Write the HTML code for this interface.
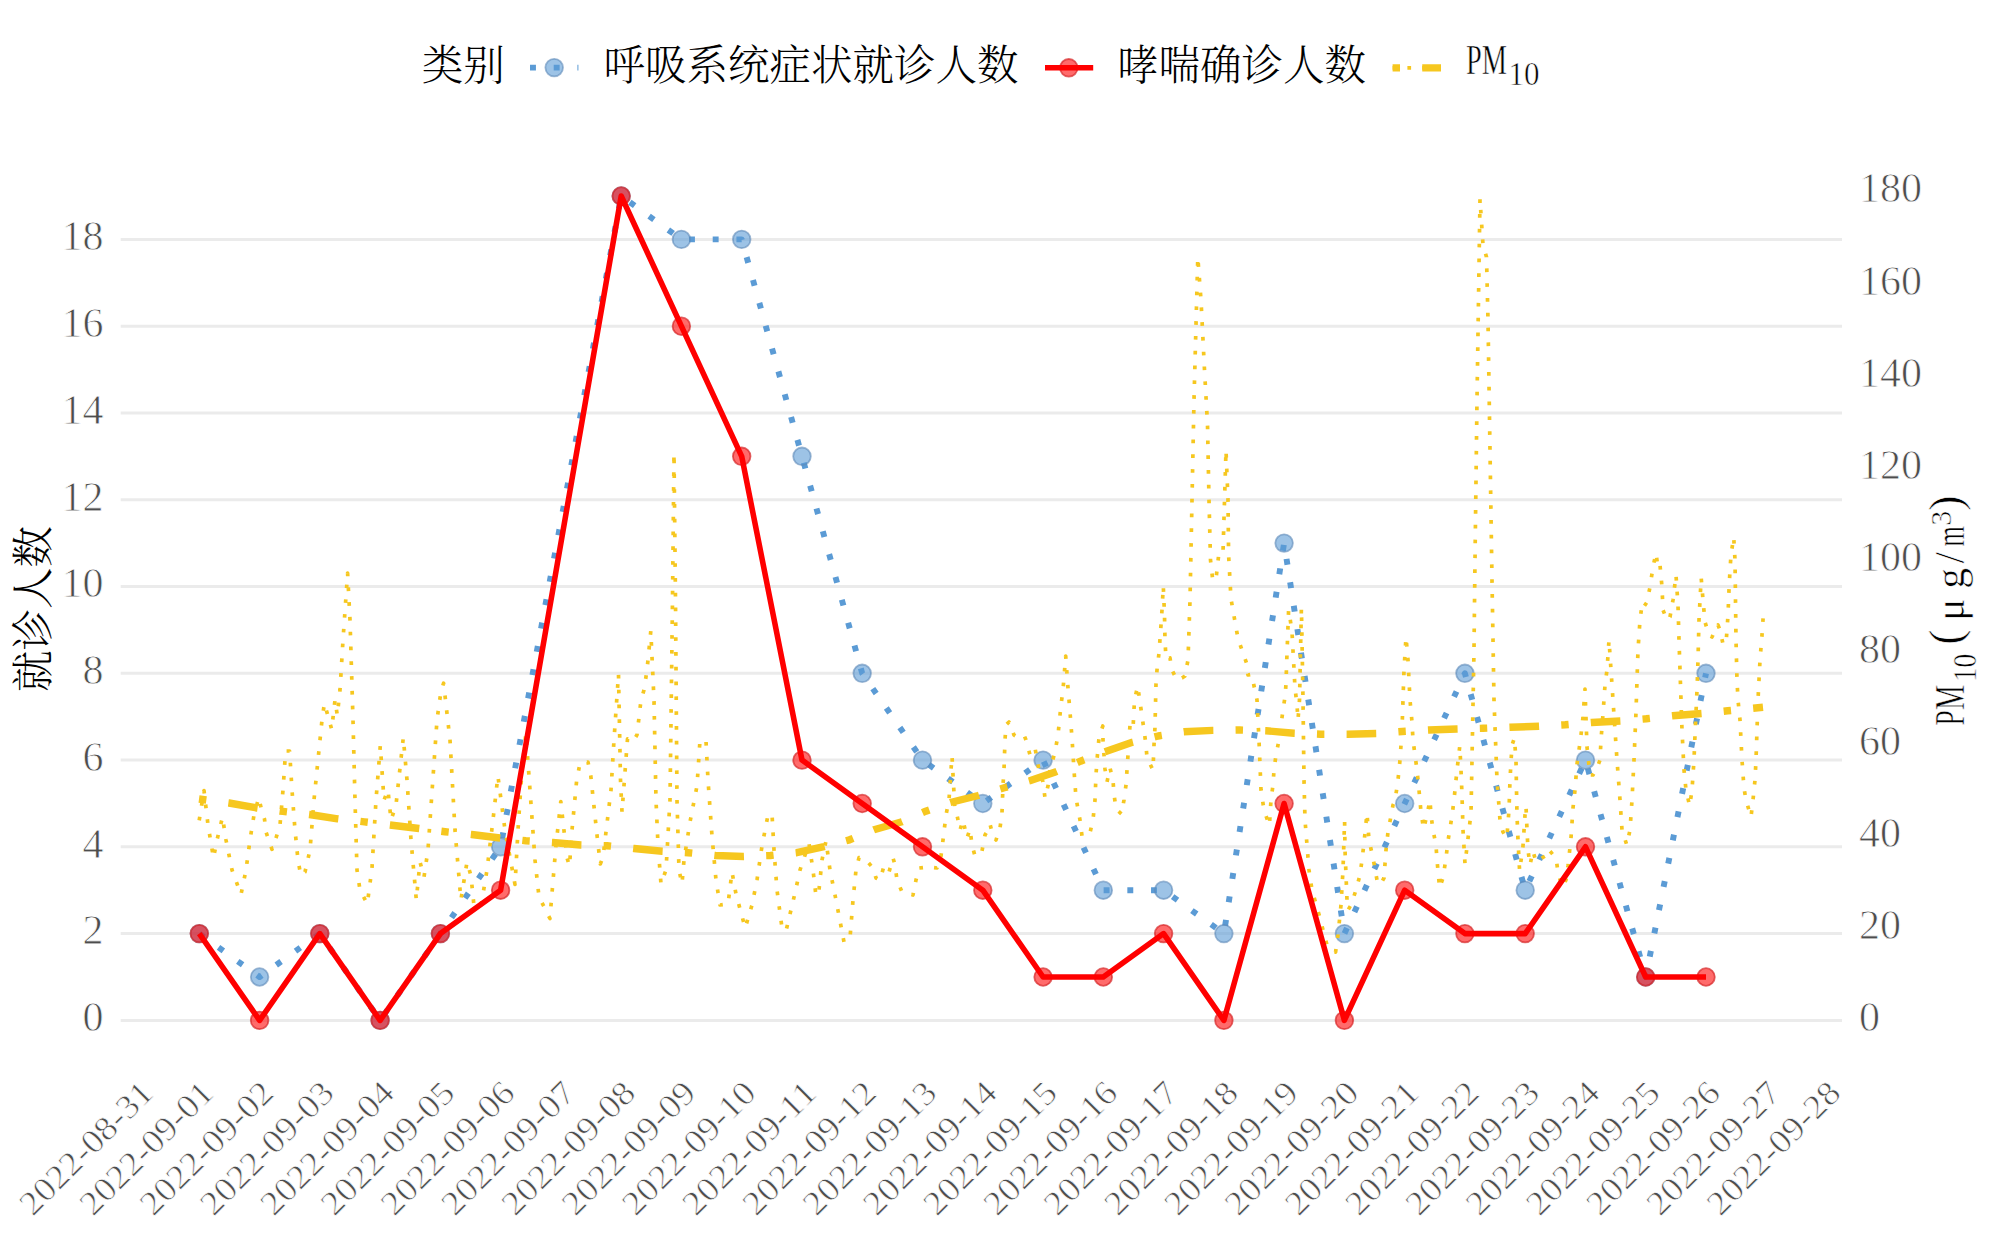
<!DOCTYPE html><html><head><meta charset="utf-8"><title>chart</title><style>html,body{margin:0;padding:0;background:#fff;}svg{display:block}</style></head><body>
<svg width="2000" height="1250" viewBox="0 0 2000 1250">
<rect width="2000" height="1250" fill="#fff"/>
<line x1="120.7" y1="1020.40" x2="1842" y2="1020.40" stroke="#EBEBEB" stroke-width="3"/>
<line x1="120.7" y1="933.62" x2="1842" y2="933.62" stroke="#EBEBEB" stroke-width="3"/>
<line x1="120.7" y1="846.84" x2="1842" y2="846.84" stroke="#EBEBEB" stroke-width="3"/>
<line x1="120.7" y1="760.06" x2="1842" y2="760.06" stroke="#EBEBEB" stroke-width="3"/>
<line x1="120.7" y1="673.28" x2="1842" y2="673.28" stroke="#EBEBEB" stroke-width="3"/>
<line x1="120.7" y1="586.50" x2="1842" y2="586.50" stroke="#EBEBEB" stroke-width="3"/>
<line x1="120.7" y1="499.72" x2="1842" y2="499.72" stroke="#EBEBEB" stroke-width="3"/>
<line x1="120.7" y1="412.94" x2="1842" y2="412.94" stroke="#EBEBEB" stroke-width="3"/>
<line x1="120.7" y1="326.16" x2="1842" y2="326.16" stroke="#EBEBEB" stroke-width="3"/>
<line x1="120.7" y1="239.38" x2="1842" y2="239.38" stroke="#EBEBEB" stroke-width="3"/>
<text x="103.5" y="1031.2" font-family="Liberation Serif, serif" font-size="42" fill="#4D4D4D" stroke="#fff" stroke-width="0.8" text-anchor="end">0</text>
<text x="103.5" y="944.4" font-family="Liberation Serif, serif" font-size="42" fill="#4D4D4D" stroke="#fff" stroke-width="0.8" text-anchor="end">2</text>
<text x="103.5" y="857.6" font-family="Liberation Serif, serif" font-size="42" fill="#4D4D4D" stroke="#fff" stroke-width="0.8" text-anchor="end">4</text>
<text x="103.5" y="770.9" font-family="Liberation Serif, serif" font-size="42" fill="#4D4D4D" stroke="#fff" stroke-width="0.8" text-anchor="end">6</text>
<text x="103.5" y="684.1" font-family="Liberation Serif, serif" font-size="42" fill="#4D4D4D" stroke="#fff" stroke-width="0.8" text-anchor="end">8</text>
<text x="103.5" y="597.3" font-family="Liberation Serif, serif" font-size="42" fill="#4D4D4D" stroke="#fff" stroke-width="0.8" text-anchor="end">10</text>
<text x="103.5" y="510.5" font-family="Liberation Serif, serif" font-size="42" fill="#4D4D4D" stroke="#fff" stroke-width="0.8" text-anchor="end">12</text>
<text x="103.5" y="423.7" font-family="Liberation Serif, serif" font-size="42" fill="#4D4D4D" stroke="#fff" stroke-width="0.8" text-anchor="end">14</text>
<text x="103.5" y="337.0" font-family="Liberation Serif, serif" font-size="42" fill="#4D4D4D" stroke="#fff" stroke-width="0.8" text-anchor="end">16</text>
<text x="103.5" y="250.2" font-family="Liberation Serif, serif" font-size="42" fill="#4D4D4D" stroke="#fff" stroke-width="0.8" text-anchor="end">18</text>
<text x="1859" y="1031.2" font-family="Liberation Serif, serif" font-size="42" fill="#4D4D4D" stroke="#fff" stroke-width="0.8">0</text>
<text x="1859" y="939.1" font-family="Liberation Serif, serif" font-size="42" fill="#4D4D4D" stroke="#fff" stroke-width="0.8">20</text>
<text x="1859" y="847.0" font-family="Liberation Serif, serif" font-size="42" fill="#4D4D4D" stroke="#fff" stroke-width="0.8">40</text>
<text x="1859" y="754.9" font-family="Liberation Serif, serif" font-size="42" fill="#4D4D4D" stroke="#fff" stroke-width="0.8">60</text>
<text x="1859" y="662.8" font-family="Liberation Serif, serif" font-size="42" fill="#4D4D4D" stroke="#fff" stroke-width="0.8">80</text>
<text x="1859" y="570.8" font-family="Liberation Serif, serif" font-size="42" fill="#4D4D4D" stroke="#fff" stroke-width="0.8">100</text>
<text x="1859" y="478.7" font-family="Liberation Serif, serif" font-size="42" fill="#4D4D4D" stroke="#fff" stroke-width="0.8">120</text>
<text x="1859" y="386.6" font-family="Liberation Serif, serif" font-size="42" fill="#4D4D4D" stroke="#fff" stroke-width="0.8">140</text>
<text x="1859" y="294.5" font-family="Liberation Serif, serif" font-size="42" fill="#4D4D4D" stroke="#fff" stroke-width="0.8">160</text>
<text x="1859" y="202.4" font-family="Liberation Serif, serif" font-size="42" fill="#4D4D4D" stroke="#fff" stroke-width="0.8">180</text>
<text transform="translate(155.1,1094.9) rotate(-45)" font-family="Liberation Serif, serif" font-size="34" fill="#4D4D4D" stroke="#fff" stroke-width="0.7" text-anchor="end" textLength="173" lengthAdjust="spacingAndGlyphs">2022-08-31</text>
<text transform="translate(215.4,1094.9) rotate(-45)" font-family="Liberation Serif, serif" font-size="34" fill="#4D4D4D" stroke="#fff" stroke-width="0.7" text-anchor="end" textLength="173" lengthAdjust="spacingAndGlyphs">2022-09-01</text>
<text transform="translate(275.7,1094.9) rotate(-45)" font-family="Liberation Serif, serif" font-size="34" fill="#4D4D4D" stroke="#fff" stroke-width="0.7" text-anchor="end" textLength="173" lengthAdjust="spacingAndGlyphs">2022-09-02</text>
<text transform="translate(335.9,1094.9) rotate(-45)" font-family="Liberation Serif, serif" font-size="34" fill="#4D4D4D" stroke="#fff" stroke-width="0.7" text-anchor="end" textLength="173" lengthAdjust="spacingAndGlyphs">2022-09-03</text>
<text transform="translate(396.2,1094.9) rotate(-45)" font-family="Liberation Serif, serif" font-size="34" fill="#4D4D4D" stroke="#fff" stroke-width="0.7" text-anchor="end" textLength="173" lengthAdjust="spacingAndGlyphs">2022-09-04</text>
<text transform="translate(456.5,1094.9) rotate(-45)" font-family="Liberation Serif, serif" font-size="34" fill="#4D4D4D" stroke="#fff" stroke-width="0.7" text-anchor="end" textLength="173" lengthAdjust="spacingAndGlyphs">2022-09-05</text>
<text transform="translate(516.7,1094.9) rotate(-45)" font-family="Liberation Serif, serif" font-size="34" fill="#4D4D4D" stroke="#fff" stroke-width="0.7" text-anchor="end" textLength="173" lengthAdjust="spacingAndGlyphs">2022-09-06</text>
<text transform="translate(577.0,1094.9) rotate(-45)" font-family="Liberation Serif, serif" font-size="34" fill="#4D4D4D" stroke="#fff" stroke-width="0.7" text-anchor="end" textLength="173" lengthAdjust="spacingAndGlyphs">2022-09-07</text>
<text transform="translate(637.3,1094.9) rotate(-45)" font-family="Liberation Serif, serif" font-size="34" fill="#4D4D4D" stroke="#fff" stroke-width="0.7" text-anchor="end" textLength="173" lengthAdjust="spacingAndGlyphs">2022-09-08</text>
<text transform="translate(697.5,1094.9) rotate(-45)" font-family="Liberation Serif, serif" font-size="34" fill="#4D4D4D" stroke="#fff" stroke-width="0.7" text-anchor="end" textLength="173" lengthAdjust="spacingAndGlyphs">2022-09-09</text>
<text transform="translate(757.8,1094.9) rotate(-45)" font-family="Liberation Serif, serif" font-size="34" fill="#4D4D4D" stroke="#fff" stroke-width="0.7" text-anchor="end" textLength="173" lengthAdjust="spacingAndGlyphs">2022-09-10</text>
<text transform="translate(818.1,1094.9) rotate(-45)" font-family="Liberation Serif, serif" font-size="34" fill="#4D4D4D" stroke="#fff" stroke-width="0.7" text-anchor="end" textLength="173" lengthAdjust="spacingAndGlyphs">2022-09-11</text>
<text transform="translate(878.3,1094.9) rotate(-45)" font-family="Liberation Serif, serif" font-size="34" fill="#4D4D4D" stroke="#fff" stroke-width="0.7" text-anchor="end" textLength="173" lengthAdjust="spacingAndGlyphs">2022-09-12</text>
<text transform="translate(938.6,1094.9) rotate(-45)" font-family="Liberation Serif, serif" font-size="34" fill="#4D4D4D" stroke="#fff" stroke-width="0.7" text-anchor="end" textLength="173" lengthAdjust="spacingAndGlyphs">2022-09-13</text>
<text transform="translate(998.9,1094.9) rotate(-45)" font-family="Liberation Serif, serif" font-size="34" fill="#4D4D4D" stroke="#fff" stroke-width="0.7" text-anchor="end" textLength="173" lengthAdjust="spacingAndGlyphs">2022-09-14</text>
<text transform="translate(1059.2,1094.9) rotate(-45)" font-family="Liberation Serif, serif" font-size="34" fill="#4D4D4D" stroke="#fff" stroke-width="0.7" text-anchor="end" textLength="173" lengthAdjust="spacingAndGlyphs">2022-09-15</text>
<text transform="translate(1119.4,1094.9) rotate(-45)" font-family="Liberation Serif, serif" font-size="34" fill="#4D4D4D" stroke="#fff" stroke-width="0.7" text-anchor="end" textLength="173" lengthAdjust="spacingAndGlyphs">2022-09-16</text>
<text transform="translate(1179.7,1094.9) rotate(-45)" font-family="Liberation Serif, serif" font-size="34" fill="#4D4D4D" stroke="#fff" stroke-width="0.7" text-anchor="end" textLength="173" lengthAdjust="spacingAndGlyphs">2022-09-17</text>
<text transform="translate(1240.0,1094.9) rotate(-45)" font-family="Liberation Serif, serif" font-size="34" fill="#4D4D4D" stroke="#fff" stroke-width="0.7" text-anchor="end" textLength="173" lengthAdjust="spacingAndGlyphs">2022-09-18</text>
<text transform="translate(1300.2,1094.9) rotate(-45)" font-family="Liberation Serif, serif" font-size="34" fill="#4D4D4D" stroke="#fff" stroke-width="0.7" text-anchor="end" textLength="173" lengthAdjust="spacingAndGlyphs">2022-09-19</text>
<text transform="translate(1360.5,1094.9) rotate(-45)" font-family="Liberation Serif, serif" font-size="34" fill="#4D4D4D" stroke="#fff" stroke-width="0.7" text-anchor="end" textLength="173" lengthAdjust="spacingAndGlyphs">2022-09-20</text>
<text transform="translate(1420.8,1094.9) rotate(-45)" font-family="Liberation Serif, serif" font-size="34" fill="#4D4D4D" stroke="#fff" stroke-width="0.7" text-anchor="end" textLength="173" lengthAdjust="spacingAndGlyphs">2022-09-21</text>
<text transform="translate(1481.0,1094.9) rotate(-45)" font-family="Liberation Serif, serif" font-size="34" fill="#4D4D4D" stroke="#fff" stroke-width="0.7" text-anchor="end" textLength="173" lengthAdjust="spacingAndGlyphs">2022-09-22</text>
<text transform="translate(1541.3,1094.9) rotate(-45)" font-family="Liberation Serif, serif" font-size="34" fill="#4D4D4D" stroke="#fff" stroke-width="0.7" text-anchor="end" textLength="173" lengthAdjust="spacingAndGlyphs">2022-09-23</text>
<text transform="translate(1601.6,1094.9) rotate(-45)" font-family="Liberation Serif, serif" font-size="34" fill="#4D4D4D" stroke="#fff" stroke-width="0.7" text-anchor="end" textLength="173" lengthAdjust="spacingAndGlyphs">2022-09-24</text>
<text transform="translate(1661.8,1094.9) rotate(-45)" font-family="Liberation Serif, serif" font-size="34" fill="#4D4D4D" stroke="#fff" stroke-width="0.7" text-anchor="end" textLength="173" lengthAdjust="spacingAndGlyphs">2022-09-25</text>
<text transform="translate(1722.1,1094.9) rotate(-45)" font-family="Liberation Serif, serif" font-size="34" fill="#4D4D4D" stroke="#fff" stroke-width="0.7" text-anchor="end" textLength="173" lengthAdjust="spacingAndGlyphs">2022-09-26</text>
<text transform="translate(1782.4,1094.9) rotate(-45)" font-family="Liberation Serif, serif" font-size="34" fill="#4D4D4D" stroke="#fff" stroke-width="0.7" text-anchor="end" textLength="173" lengthAdjust="spacingAndGlyphs">2022-09-27</text>
<text transform="translate(1842.6,1094.9) rotate(-45)" font-family="Liberation Serif, serif" font-size="34" fill="#4D4D4D" stroke="#fff" stroke-width="0.7" text-anchor="end" textLength="173" lengthAdjust="spacingAndGlyphs">2022-09-28</text>
<text transform="translate(48.2,609) rotate(-90)" font-family="Liberation Serif, Noto Serif CJK SC, serif" font-weight="300" font-size="41.5" fill="#000" text-anchor="middle">就诊人数</text>
<text transform="translate(1964.3,725.7) rotate(-90)" font-family="Liberation Serif, serif" font-size="41.5" fill="#000" stroke="#fff" stroke-width="0.6"><tspan x="0" y="0" textLength="40.6" lengthAdjust="spacingAndGlyphs">PM</tspan><tspan x="58" y="11.9" font-size="34" text-anchor="middle" textLength="28" lengthAdjust="spacingAndGlyphs">10</tspan><tspan x="88.5" y="-3" font-size="46" text-anchor="middle">(</tspan><tspan x="116" y="0" text-anchor="middle">μ</tspan><tspan x="147.3" y="0" text-anchor="middle">g</tspan><tspan x="168" y="0" text-anchor="middle">/</tspan><tspan x="189.5" y="0" text-anchor="middle" textLength="20.5" lengthAdjust="spacingAndGlyphs">m</tspan><tspan x="207.5" y="-13.5" font-size="30" text-anchor="middle">3</tspan><tspan x="222.7" y="-3" font-size="46" text-anchor="middle">)</tspan></text>
<polyline points="199.3,933.6 259.6,977.0 319.8,933.6 380.1,1020.4 440.4,933.6 500.6,846.8 621.2,196.0 681.4,239.4 741.7,239.4 802.0,456.3 862.2,673.3 922.5,760.1 982.8,803.5 1043.1,760.1 1103.3,890.2 1163.6,890.2 1223.9,933.6 1284.1,543.1 1344.4,933.6 1404.7,803.5 1464.9,673.3 1525.2,890.2 1585.5,760.1 1645.7,977.0 1706.0,673.3" fill="none" stroke="#5B9BD5" stroke-width="5.93" stroke-dasharray="5.93 17.78" stroke-linejoin="round"/>
<circle cx="199.3" cy="933.6" r="8.8" fill="#5B9BD5" fill-opacity="0.6" stroke="#5E88B8" stroke-opacity="0.6" stroke-width="1.8"/>
<circle cx="259.6" cy="977.0" r="8.8" fill="#5B9BD5" fill-opacity="0.6" stroke="#5E88B8" stroke-opacity="0.6" stroke-width="1.8"/>
<circle cx="319.8" cy="933.6" r="8.8" fill="#5B9BD5" fill-opacity="0.6" stroke="#5E88B8" stroke-opacity="0.6" stroke-width="1.8"/>
<circle cx="380.1" cy="1020.4" r="8.8" fill="#5B9BD5" fill-opacity="0.6" stroke="#5E88B8" stroke-opacity="0.6" stroke-width="1.8"/>
<circle cx="440.4" cy="933.6" r="8.8" fill="#5B9BD5" fill-opacity="0.6" stroke="#5E88B8" stroke-opacity="0.6" stroke-width="1.8"/>
<circle cx="500.6" cy="846.8" r="8.8" fill="#5B9BD5" fill-opacity="0.6" stroke="#5E88B8" stroke-opacity="0.6" stroke-width="1.8"/>
<circle cx="621.2" cy="196.0" r="8.8" fill="#5B9BD5" fill-opacity="0.6" stroke="#5E88B8" stroke-opacity="0.6" stroke-width="1.8"/>
<circle cx="681.4" cy="239.4" r="8.8" fill="#5B9BD5" fill-opacity="0.6" stroke="#5E88B8" stroke-opacity="0.6" stroke-width="1.8"/>
<circle cx="741.7" cy="239.4" r="8.8" fill="#5B9BD5" fill-opacity="0.6" stroke="#5E88B8" stroke-opacity="0.6" stroke-width="1.8"/>
<circle cx="802.0" cy="456.3" r="8.8" fill="#5B9BD5" fill-opacity="0.6" stroke="#5E88B8" stroke-opacity="0.6" stroke-width="1.8"/>
<circle cx="862.2" cy="673.3" r="8.8" fill="#5B9BD5" fill-opacity="0.6" stroke="#5E88B8" stroke-opacity="0.6" stroke-width="1.8"/>
<circle cx="922.5" cy="760.1" r="8.8" fill="#5B9BD5" fill-opacity="0.6" stroke="#5E88B8" stroke-opacity="0.6" stroke-width="1.8"/>
<circle cx="982.8" cy="803.5" r="8.8" fill="#5B9BD5" fill-opacity="0.6" stroke="#5E88B8" stroke-opacity="0.6" stroke-width="1.8"/>
<circle cx="1043.1" cy="760.1" r="8.8" fill="#5B9BD5" fill-opacity="0.6" stroke="#5E88B8" stroke-opacity="0.6" stroke-width="1.8"/>
<circle cx="1103.3" cy="890.2" r="8.8" fill="#5B9BD5" fill-opacity="0.6" stroke="#5E88B8" stroke-opacity="0.6" stroke-width="1.8"/>
<circle cx="1163.6" cy="890.2" r="8.8" fill="#5B9BD5" fill-opacity="0.6" stroke="#5E88B8" stroke-opacity="0.6" stroke-width="1.8"/>
<circle cx="1223.9" cy="933.6" r="8.8" fill="#5B9BD5" fill-opacity="0.6" stroke="#5E88B8" stroke-opacity="0.6" stroke-width="1.8"/>
<circle cx="1284.1" cy="543.1" r="8.8" fill="#5B9BD5" fill-opacity="0.6" stroke="#5E88B8" stroke-opacity="0.6" stroke-width="1.8"/>
<circle cx="1344.4" cy="933.6" r="8.8" fill="#5B9BD5" fill-opacity="0.6" stroke="#5E88B8" stroke-opacity="0.6" stroke-width="1.8"/>
<circle cx="1404.7" cy="803.5" r="8.8" fill="#5B9BD5" fill-opacity="0.6" stroke="#5E88B8" stroke-opacity="0.6" stroke-width="1.8"/>
<circle cx="1464.9" cy="673.3" r="8.8" fill="#5B9BD5" fill-opacity="0.6" stroke="#5E88B8" stroke-opacity="0.6" stroke-width="1.8"/>
<circle cx="1525.2" cy="890.2" r="8.8" fill="#5B9BD5" fill-opacity="0.6" stroke="#5E88B8" stroke-opacity="0.6" stroke-width="1.8"/>
<circle cx="1585.5" cy="760.1" r="8.8" fill="#5B9BD5" fill-opacity="0.6" stroke="#5E88B8" stroke-opacity="0.6" stroke-width="1.8"/>
<circle cx="1645.7" cy="977.0" r="8.8" fill="#5B9BD5" fill-opacity="0.6" stroke="#5E88B8" stroke-opacity="0.6" stroke-width="1.8"/>
<circle cx="1706.0" cy="673.3" r="8.8" fill="#5B9BD5" fill-opacity="0.6" stroke="#5E88B8" stroke-opacity="0.6" stroke-width="1.8"/>
<polyline points="199.2,820.4 204.0,790.5 208.0,825.0 213.5,858.0 217.0,840.0 222.5,817.0 226.0,840.0 232.0,870.0 241.0,894.5 246.0,870.0 250.0,840.0 254.0,815.0 258.8,797.5 262.0,812.0 264.5,819.0 266.0,832.0 272.0,849.3 276.0,838.0 280.0,825.0 283.0,790.0 285.6,751.0 289.6,751.0 292.0,790.0 295.0,830.0 298.0,860.0 300.8,875.5 305.0,872.0 310.0,850.0 314.0,800.0 318.0,760.0 322.0,720.0 324.4,703.4 328.0,716.0 331.7,729.4 335.0,700.0 337.3,715.4 340.0,690.0 343.0,640.0 347.6,573.0 350.0,620.0 353.0,720.0 355.0,800.0 357.0,870.0 360.0,890.0 367.3,904.0 372.0,868.0 376.0,800.0 380.3,745.7 384.0,800.0 388.0,790.0 391.0,820.0 396.0,805.0 403.3,737.6 407.0,780.0 411.0,840.0 416.3,899.8 420.0,862.0 424.0,877.0 428.0,850.0 432.0,792.0 437.0,720.0 441.0,691.0 443.6,683.2 450.0,740.0 455.0,830.0 460.9,899.8 467.0,862.0 471.0,876.0 474.0,906.0 481.0,906.0 487.0,870.0 493.0,820.0 497.9,775.9 505.0,830.0 515.0,884.5 518.0,830.0 522.0,770.0 525.9,733.4 530.0,790.0 535.0,860.0 539.0,896.8 549.9,918.5 556.0,845.0 560.8,801.5 567.0,858.0 569.5,866.0 572.0,830.0 576.6,781.0 580.0,763.0 588.0,762.0 590.8,776.0 597.0,835.0 600.3,864.0 603.0,857.0 608.0,815.0 611.0,790.0 614.0,740.0 618.5,674.0 620.5,780.0 622.0,812.0 627.5,738.9 633.0,741.6 637.0,734.8 641.0,700.0 644.0,690.0 647.0,670.0 650.8,631.0 654.0,700.0 656.0,800.0 658.0,845.0 661.0,884.0 666.0,870.0 670.0,800.0 672.5,600.0 674.0,453.0 675.5,600.0 677.0,800.0 679.0,870.0 682.0,884.0 684.0,860.0 690.0,822.0 697.0,786.0 700.0,740.0 706.0,741.0 708.0,780.0 712.0,836.0 716.0,880.0 720.0,905.0 728.0,904.0 732.0,872.0 736.0,894.0 745.2,928.0 752.0,905.0 757.0,880.0 762.0,846.0 768.0,815.0 772.0,814.0 774.0,850.0 777.0,890.0 782.0,928.0 786.0,931.0 795.0,893.0 800.0,870.0 809.0,843.5 813.0,870.0 816.0,896.0 819.0,890.0 822.0,860.0 826.0,841.0 830.0,870.0 836.0,900.0 844.0,942.0 850.0,938.0 853.0,900.0 856.0,870.0 859.0,857.6 866.0,860.0 873.0,868.0 876.0,878.0 880.0,880.0 884.0,866.0 889.0,872.0 893.0,858.0 895.0,865.0 897.0,880.0 902.0,892.0 907.0,893.0 913.0,895.0 916.0,880.0 919.0,868.0 928.0,867.0 937.0,868.0 941.0,856.0 943.0,840.0 946.0,815.0 949.0,800.0 951.0,770.0 952.0,756.0 955.0,812.0 957.0,815.0 960.0,830.0 963.0,820.0 967.0,838.0 970.0,829.0 972.0,845.0 975.0,856.0 978.0,852.0 982.0,851.0 985.0,835.0 988.0,830.0 990.0,824.0 993.0,836.0 996.0,840.0 1000.0,828.0 1002.0,813.0 1003.0,785.0 1004.0,770.0 1005.0,740.0 1006.0,725.0 1009.0,722.0 1014.0,735.0 1017.0,737.0 1024.0,735.0 1026.0,740.0 1030.0,755.0 1035.0,748.0 1039.0,770.0 1043.0,782.0 1045.0,798.0 1048.0,786.0 1050.0,770.0 1055.0,752.0 1058.0,735.0 1061.0,705.0 1063.0,690.0 1065.7,656.0 1068.0,688.0 1070.0,712.0 1072.0,738.0 1074.0,770.0 1076.0,798.0 1080.0,820.0 1082.0,836.0 1089.7,834.0 1093.0,820.0 1095.0,800.0 1096.0,775.0 1097.0,760.0 1099.0,738.0 1102.8,726.0 1103.0,740.0 1104.0,755.0 1105.0,769.0 1107.0,782.0 1110.0,768.0 1113.0,780.0 1114.0,794.0 1116.0,809.0 1121.5,814.0 1124.0,800.0 1126.0,785.0 1127.0,770.0 1128.0,755.0 1130.0,725.0 1133.0,729.0 1134.5,700.0 1137.7,686.0 1140.0,702.0 1142.0,716.0 1144.0,730.0 1146.0,745.0 1147.0,758.0 1153.0,770.0 1154.0,745.0 1155.0,727.0 1155.6,700.0 1156.0,684.0 1157.0,670.0 1159.0,653.0 1161.0,625.0 1162.0,610.0 1163.3,586.0 1164.5,615.0 1165.0,640.0 1166.0,659.0 1170.0,658.0 1172.0,670.0 1177.0,680.0 1182.0,678.0 1185.0,676.0 1188.0,660.0 1190.0,600.0 1192.0,500.0 1194.0,400.0 1197.8,257.0 1201.0,300.0 1204.5,370.0 1207.5,424.0 1209.0,500.0 1210.5,560.0 1212.5,578.0 1215.8,581.0 1219.0,552.0 1223.0,552.0 1226.0,450.0 1228.0,500.0 1228.6,555.0 1231.0,599.0 1238.0,638.6 1246.5,662.9 1248.0,675.0 1251.6,674.4 1257.0,700.0 1259.0,740.0 1261.0,790.0 1264.0,810.0 1269.4,825.6 1271.0,800.0 1273.0,785.0 1274.0,770.0 1276.0,755.0 1279.0,740.0 1281.0,725.0 1283.0,710.0 1285.0,697.0 1286.0,684.0 1286.5,667.0 1287.5,640.0 1288.6,610.0 1290.0,618.0 1292.0,632.0 1293.5,660.0 1295.0,688.0 1297.0,705.0 1298.0,720.0 1299.5,700.0 1301.4,608.0 1302.0,640.0 1303.0,700.0 1303.5,740.0 1304.0,780.0 1305.0,820.0 1307.0,845.0 1309.0,870.0 1312.0,890.0 1316.0,904.0 1320.0,918.0 1323.0,930.0 1327.0,945.0 1335.6,952.0 1338.0,935.0 1341.0,905.0 1343.0,870.0 1344.6,821.0 1345.0,850.0 1347.0,900.0 1348.0,910.0 1351.0,905.0 1356.0,890.0 1360.0,875.0 1362.0,860.0 1364.0,843.0 1367.0,813.0 1369.0,840.0 1373.0,858.0 1377.0,880.0 1380.0,885.0 1384.0,878.0 1386.0,850.0 1388.0,832.0 1393.0,805.0 1395.0,801.0 1398.0,780.0 1400.0,760.0 1402.0,730.0 1403.0,700.0 1404.0,670.0 1406.0,637.0 1408.0,660.0 1410.0,700.0 1412.0,722.0 1413.0,740.0 1415.0,755.0 1417.0,770.0 1419.0,790.0 1421.0,812.0 1423.6,829.0 1427.0,815.0 1430.0,800.0 1431.0,815.0 1433.0,830.0 1436.0,845.0 1437.0,860.0 1439.6,888.0 1443.0,878.0 1446.0,858.0 1448.0,841.0 1452.0,816.0 1454.0,800.0 1457.0,770.0 1459.8,746.0 1461.0,770.0 1462.0,795.0 1463.0,830.0 1465.0,864.0 1471.0,813.0 1472.0,760.0 1474.0,650.0 1475.0,560.0 1477.0,400.0 1480.0,199.0 1483.0,245.0 1486.5,257.0 1488.0,320.0 1490.0,450.0 1492.0,580.0 1494.0,700.0 1497.0,780.0 1500.0,820.0 1503.0,832.0 1506.8,838.0 1509.0,810.0 1510.0,780.0 1511.0,762.0 1512.0,745.0 1514.4,738.0 1516.0,760.0 1516.5,790.0 1517.0,815.0 1518.0,840.0 1519.6,871.0 1523.0,846.0 1525.0,815.0 1526.0,806.0 1527.0,830.0 1528.0,850.0 1530.0,865.0 1533.0,851.0 1536.0,862.0 1539.0,860.0 1545.0,856.0 1548.0,849.0 1556.0,858.0 1558.0,872.0 1562.0,887.0 1566.0,880.0 1568.0,866.0 1571.0,838.0 1573.0,808.0 1575.0,790.0 1577.0,764.0 1579.0,750.0 1581.0,735.0 1583.0,717.0 1585.0,689.0 1587.0,747.0 1590.0,775.0 1593.0,775.0 1597.0,768.0 1600.0,760.0 1601.0,740.0 1603.0,714.0 1605.0,685.0 1607.0,670.0 1609.0,640.0 1611.0,670.0 1613.0,700.0 1615.0,730.0 1617.0,760.0 1620.0,800.0 1622.0,830.0 1626.8,845.0 1630.0,830.0 1632.0,800.0 1634.0,760.0 1636.0,712.0 1637.0,680.0 1638.0,650.0 1640.0,620.0 1642.0,605.0 1643.0,608.0 1647.0,602.0 1650.0,587.0 1653.0,567.0 1656.0,553.0 1658.0,568.0 1660.0,565.0 1662.0,587.0 1663.0,610.0 1667.0,620.0 1670.0,617.0 1673.0,600.0 1676.0,575.0 1678.0,605.0 1679.0,640.0 1680.0,670.0 1681.0,700.0 1682.0,730.0 1683.0,750.0 1684.0,770.0 1686.0,790.0 1689.7,806.0 1692.0,790.0 1694.0,760.0 1695.0,735.0 1697.0,690.0 1698.0,660.0 1699.0,620.0 1700.0,600.0 1701.2,578.0 1703.0,600.0 1705.0,622.0 1709.0,635.0 1712.0,637.0 1718.0,625.0 1720.0,630.0 1723.0,644.0 1726.0,644.0 1727.0,630.0 1728.0,615.0 1729.0,590.0 1730.0,570.0 1731.0,555.0 1733.7,537.0 1735.0,560.0 1735.5,600.0 1736.0,640.0 1737.0,680.0 1738.0,700.0 1740.0,720.0 1741.0,740.0 1742.0,760.0 1744.0,788.0 1746.0,800.0 1751.0,817.0 1753.0,800.0 1755.0,780.0 1756.0,760.0 1757.0,730.0 1758.0,700.0 1760.0,660.0 1762.0,635.0 1763.5,612.0" fill="none" stroke="#F6C71F" stroke-width="3.7" stroke-dasharray="3.7 11.1" stroke-linejoin="round"/>
<polyline points="199.0,799.0 229.0,803.0 257.0,808.0 283.0,811.4 309.5,814.5 337.5,818.8 364.5,821.9 390.0,825.0 419.0,828.5 445.0,831.7 471.6,834.5 500.0,838.0 525.8,840.8 552.8,842.5 580.8,845.0 607.0,845.7 634.0,848.5 662.3,851.3 688.2,852.7 715.5,855.5 743.5,856.5 770.5,855.5 796.7,852.7 824.0,846.7 849.6,839.8 874.0,829.8 902.0,821.8 925.8,811.2 950.3,802.5 978.3,795.5 1004.2,787.8 1029.8,780.8 1056.0,771.7 1080.5,761.2 1105.0,751.8 1132.3,742.3 1158.2,736.0 1183.8,731.8 1212.8,730.4 1239.8,730.0 1266.0,730.8 1294.0,733.2 1320.6,734.2 1347.2,734.2 1376.3,733.5 1402.2,731.5 1428.8,730.0 1456.8,729.0 1483.0,728.3 1510.0,727.2 1539.0,726.3 1565.2,724.8 1591.5,722.5 1620.8,721.0 1646.2,718.8 1672.5,715.8 1701.8,713.5 1727.7,710.8 1758.0,707.8 1763.0,707.3" fill="none" stroke="#F6C71F" stroke-width="7.41" stroke-dasharray="7.41 22.23 29.64 22.23" stroke-linejoin="round"/>
<circle cx="199.3" cy="933.6" r="8.8" fill="#FF0000" fill-opacity="0.58" stroke="#D62728" stroke-opacity="0.7" stroke-width="1.8"/>
<circle cx="259.6" cy="1020.4" r="8.8" fill="#FF0000" fill-opacity="0.58" stroke="#D62728" stroke-opacity="0.7" stroke-width="1.8"/>
<circle cx="319.8" cy="933.6" r="8.8" fill="#FF0000" fill-opacity="0.58" stroke="#D62728" stroke-opacity="0.7" stroke-width="1.8"/>
<circle cx="380.1" cy="1020.4" r="8.8" fill="#FF0000" fill-opacity="0.58" stroke="#D62728" stroke-opacity="0.7" stroke-width="1.8"/>
<circle cx="440.4" cy="933.6" r="8.8" fill="#FF0000" fill-opacity="0.58" stroke="#D62728" stroke-opacity="0.7" stroke-width="1.8"/>
<circle cx="500.6" cy="890.2" r="8.8" fill="#FF0000" fill-opacity="0.58" stroke="#D62728" stroke-opacity="0.7" stroke-width="1.8"/>
<circle cx="621.2" cy="196.0" r="8.8" fill="#FF0000" fill-opacity="0.58" stroke="#D62728" stroke-opacity="0.7" stroke-width="1.8"/>
<circle cx="681.4" cy="326.2" r="8.8" fill="#FF0000" fill-opacity="0.58" stroke="#D62728" stroke-opacity="0.7" stroke-width="1.8"/>
<circle cx="741.7" cy="456.3" r="8.8" fill="#FF0000" fill-opacity="0.58" stroke="#D62728" stroke-opacity="0.7" stroke-width="1.8"/>
<circle cx="802.0" cy="760.1" r="8.8" fill="#FF0000" fill-opacity="0.58" stroke="#D62728" stroke-opacity="0.7" stroke-width="1.8"/>
<circle cx="862.2" cy="803.5" r="8.8" fill="#FF0000" fill-opacity="0.58" stroke="#D62728" stroke-opacity="0.7" stroke-width="1.8"/>
<circle cx="922.5" cy="846.8" r="8.8" fill="#FF0000" fill-opacity="0.58" stroke="#D62728" stroke-opacity="0.7" stroke-width="1.8"/>
<circle cx="982.8" cy="890.2" r="8.8" fill="#FF0000" fill-opacity="0.58" stroke="#D62728" stroke-opacity="0.7" stroke-width="1.8"/>
<circle cx="1043.1" cy="977.0" r="8.8" fill="#FF0000" fill-opacity="0.58" stroke="#D62728" stroke-opacity="0.7" stroke-width="1.8"/>
<circle cx="1103.3" cy="977.0" r="8.8" fill="#FF0000" fill-opacity="0.58" stroke="#D62728" stroke-opacity="0.7" stroke-width="1.8"/>
<circle cx="1163.6" cy="933.6" r="8.8" fill="#FF0000" fill-opacity="0.58" stroke="#D62728" stroke-opacity="0.7" stroke-width="1.8"/>
<circle cx="1223.9" cy="1020.4" r="8.8" fill="#FF0000" fill-opacity="0.58" stroke="#D62728" stroke-opacity="0.7" stroke-width="1.8"/>
<circle cx="1284.1" cy="803.5" r="8.8" fill="#FF0000" fill-opacity="0.58" stroke="#D62728" stroke-opacity="0.7" stroke-width="1.8"/>
<circle cx="1344.4" cy="1020.4" r="8.8" fill="#FF0000" fill-opacity="0.58" stroke="#D62728" stroke-opacity="0.7" stroke-width="1.8"/>
<circle cx="1404.7" cy="890.2" r="8.8" fill="#FF0000" fill-opacity="0.58" stroke="#D62728" stroke-opacity="0.7" stroke-width="1.8"/>
<circle cx="1464.9" cy="933.6" r="8.8" fill="#FF0000" fill-opacity="0.58" stroke="#D62728" stroke-opacity="0.7" stroke-width="1.8"/>
<circle cx="1525.2" cy="933.6" r="8.8" fill="#FF0000" fill-opacity="0.58" stroke="#D62728" stroke-opacity="0.7" stroke-width="1.8"/>
<circle cx="1585.5" cy="846.8" r="8.8" fill="#FF0000" fill-opacity="0.58" stroke="#D62728" stroke-opacity="0.7" stroke-width="1.8"/>
<circle cx="1645.7" cy="977.0" r="8.8" fill="#FF0000" fill-opacity="0.58" stroke="#D62728" stroke-opacity="0.7" stroke-width="1.8"/>
<circle cx="1706.0" cy="977.0" r="8.8" fill="#FF0000" fill-opacity="0.58" stroke="#D62728" stroke-opacity="0.7" stroke-width="1.8"/>
<polyline points="199.3,933.6 259.6,1020.4 319.8,933.6 380.1,1020.4 440.4,933.6 500.6,890.2 621.2,196.0 681.4,326.2 741.7,456.3 802.0,760.1 862.2,803.5 922.5,846.8 982.8,890.2 1043.1,977.0 1103.3,977.0 1163.6,933.6 1223.9,1020.4 1284.1,803.5 1344.4,1020.4 1404.7,890.2 1464.9,933.6 1525.2,933.6 1585.5,846.8 1645.7,977.0 1706.0,977.0" fill="none" stroke="#FF0000" stroke-width="5.56" stroke-linejoin="round"/>
<text x="421.8" y="80" font-family="Liberation Serif, Noto Serif CJK SC, serif" font-weight="300" font-size="41.5" fill="#000">类别</text>
<line x1="530" y1="67.6" x2="578.4" y2="67.6" stroke="#5B9BD5" stroke-width="5.93" stroke-dasharray="5.93 17.78"/>
<circle cx="554.2" cy="67.6" r="8.8" fill="#5B9BD5" fill-opacity="0.6" stroke="#5E88B8" stroke-opacity="0.6" stroke-width="1.8"/>
<text x="603.5" y="80" font-family="Liberation Serif, Noto Serif CJK SC, serif" font-weight="300" font-size="41.5" fill="#000">呼吸系统症状就诊人数</text>
<circle cx="1068.8" cy="67.8" r="8.8" fill="#FF0000" fill-opacity="0.58" stroke="#D62728" stroke-opacity="0.7" stroke-width="1.8"/>
<line x1="1045" y1="67.8" x2="1093.2" y2="67.8" stroke="#FF0000" stroke-width="5.56"/>
<text x="1117" y="80" font-family="Liberation Serif, Noto Serif CJK SC, serif" font-weight="300" font-size="41.5" fill="#000">哮喘确诊人数</text>
<line x1="1392.6" y1="67.9" x2="1441" y2="67.9" stroke="#F6C71F" stroke-width="3.7" stroke-dasharray="3.7 11.1"/>
<line x1="1392.6" y1="67.9" x2="1441" y2="67.9" stroke="#F6C71F" stroke-width="7.41" stroke-dasharray="7.41 22.23 29.64 22.23"/>
<text x="1466" y="74" font-family="Liberation Serif, serif" font-size="41.5" fill="#000" stroke="#fff" stroke-width="0.6"><tspan textLength="41" lengthAdjust="spacingAndGlyphs">PM</tspan><tspan font-size="34" dx="1.5" dy="11" textLength="31" lengthAdjust="spacingAndGlyphs">10</tspan></text>
</svg></body></html>
